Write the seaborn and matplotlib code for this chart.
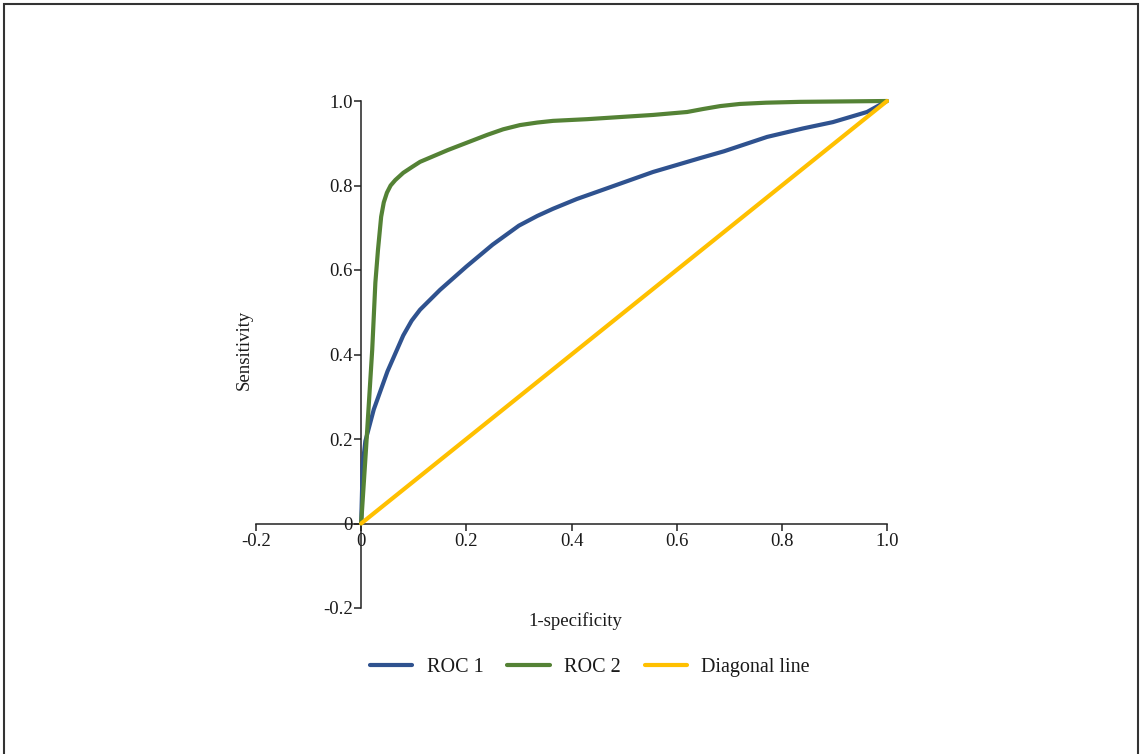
"""
ROC 曲线复现：两条 ROC 曲线 + 对角线
"""

import numpy as np
import pandas as pd
import matplotlib
matplotlib.use('Agg')
import matplotlib.pyplot as plt
from matplotlib.patches import Rectangle
import seaborn as sns

# --- 数据 ---
roc1_fpr = [0.0, 0.003, 0.008, 0.024, 0.05, 0.08, 0.096, 0.112, 0.15, 0.2,
            0.25, 0.3, 0.335, 0.365, 0.41, 0.46, 0.555, 0.645, 0.69, 0.772,
            0.84, 0.897, 0.962, 1.0]
roc1_tpr = [0.0, 0.14, 0.195, 0.27, 0.36, 0.445, 0.48, 0.506, 0.553, 0.608,
            0.66, 0.705, 0.728, 0.745, 0.768, 0.79, 0.832, 0.865, 0.881, 0.915,
            0.935, 0.95, 0.974, 1.0]

roc2_fpr = [0.0, 0.0095, 0.021, 0.027, 0.032, 0.038, 0.043, 0.049, 0.056, 0.065,
            0.08, 0.097, 0.112, 0.165, 0.24, 0.27, 0.302, 0.335, 0.365, 0.43,
            0.492, 0.555, 0.62, 0.65, 0.683, 0.72, 0.77, 0.835, 1.0]
roc2_tpr = [0.0, 0.182, 0.411, 0.57, 0.648, 0.726, 0.76, 0.783, 0.80, 0.813,
            0.83, 0.844, 0.856, 0.884, 0.92, 0.933, 0.943, 0.949, 0.953, 0.957,
            0.962, 0.967, 0.974, 0.981, 0.988, 0.993, 0.996, 0.998, 1.0]

diag_x = [0.0, 1.0]
diag_y = [0.0, 1.0]

series_names = ['ROC 1', 'ROC 2', 'Diagonal line']
series_colors = ['#2F528F', '#548235', '#FFC000']

x_ticks = [-0.2, 0.0, 0.2, 0.4, 0.6, 0.8, 1.0]
x_tick_labels = ['-0.2', '0', '0.2', '0.4', '0.6', '0.8', '1.0']
y_ticks = [-0.2, 0.0, 0.2, 0.4, 0.6, 0.8, 1.0]
y_tick_labels = ['-0.2', '0', '0.2', '0.4', '0.6', '0.8', '1.0']

# --- 样式 ---
sns.set_style('white')
plt.rcParams['font.family'] = ['Liberation Serif', 'DejaVu Serif']
plt.rcParams['axes.unicode_minus'] = False
text_color = '#1a1a1a'
fs = 13.5

fig = plt.figure(figsize=(11.4, 7.54), dpi=100)
ax = fig.add_axes([256 / 1140, 1 - 608 / 754, (887 - 256) / 1140, (608 - 101) / 754])

series = [(roc1_fpr, roc1_tpr), (roc2_fpr, roc2_tpr), (diag_x, diag_y)]
for (xs, ys), name, color in zip(series, series_names, series_colors):
    df = pd.DataFrame({'x': xs, 'y': ys})
    sns.lineplot(data=df, x='x', y='y', color=color, linewidth=3.0,
                 label=name, ax=ax, estimator=None, sort=False,
                 clip_on=False, solid_capstyle='round',
                 solid_joinstyle='round', zorder=3)

ax.set_xlim(-0.2, 1.0)
ax.set_ylim(-0.2, 1.0)

# 坐标轴交于原点
ax.spines['left'].set_position(('data', 0))
ax.spines['bottom'].set_position(('data', 0))
ax.spines['right'].set_visible(False)
ax.spines['top'].set_visible(False)
for s in ('left', 'bottom'):
    ax.spines[s].set_color('#222222')
    ax.spines[s].set_linewidth(1.1)

ax.set_xticks(x_ticks)
ax.set_xticklabels(x_tick_labels)
ax.set_yticks(y_ticks)
ax.set_yticklabels(y_tick_labels)
ax.tick_params(axis='both', direction='out', length=5, width=1.1,
               bottom=True, left=True,
               color='#222222', labelsize=fs, labelcolor=text_color)
ax.tick_params(axis='x', pad=2)
ax.tick_params(axis='y', pad=1)
ax.set_xlabel('')
ax.set_ylabel('')
ax.patch.set_alpha(0)

fig.text(575 / 1140, 1 - 621 / 754, '1-specificity', ha='center', va='center',
         fontsize=fs, color=text_color)
fig.text(244 / 1140, 1 - 350 / 754, 'Sensitivity', ha='center', va='center',
         rotation=90, fontsize=fs, color=text_color)

ax.get_legend().remove()
handles, labels = ax.get_legend_handles_labels()
leg = fig.legend(handles, labels, loc='center', ncol=3, frameon=False,
                 bbox_to_anchor=(590 / 1140, 1 - 667 / 754),
                 fontsize=14.5, handlelength=2.1, handletextpad=0.7,
                 columnspacing=1.2, labelcolor=text_color)

# 外框
fig.patches.append(Rectangle((4 / 1140, -0.05), (1138 - 4) / 1140, 1.05 - 4 / 754,
                             transform=fig.transFigure, fill=False,
                             edgecolor='#333333', linewidth=1.5))

fig.savefig('out.png', dpi=100)
plt.close(fig)
